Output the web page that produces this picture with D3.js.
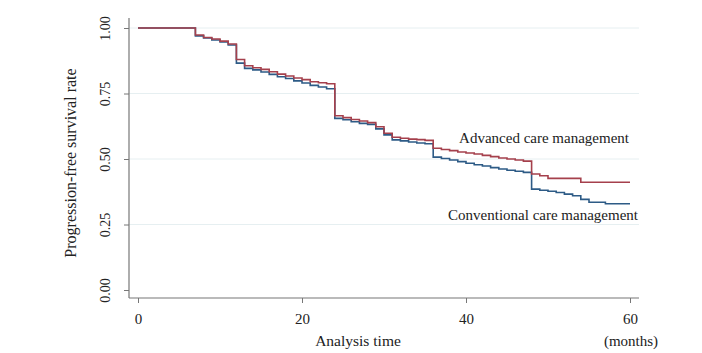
<!DOCTYPE html>
<html>
<head>
<meta charset="utf-8">
<script src="https://cdn.jsdelivr.net/npm/d3@7"></script>
<style>
  body { margin: 0; background: #fff; }
  text { font-family: "Liberation Serif", "Times New Roman", serif; fill: #222; }
</style>
</head>
<body>
<div id="drawing"></div>
<script>
// survival curve, advanced care (months, rate)
var advTime = [0, 7, 8, 9, 10, 11, 12, 13, 14, 15, 16, 17, 18, 19, 20, 21, 22, 23,
  24, 25, 26, 27, 28, 29, 30, 31, 32, 33, 34, 35, 36, 37, 38, 39, 40, 41, 42, 43,
  44, 45, 46, 47, 48, 49, 50, 54];
var advRate = [1.00, 0.973, 0.964, 0.958, 0.950, 0.939, 0.880, 0.856, 0.848, 0.842,
  0.833, 0.824, 0.817, 0.809, 0.803, 0.795, 0.791, 0.787,
  0.665, 0.658, 0.651, 0.645, 0.639, 0.623, 0.598, 0.583, 0.579, 0.576, 0.574, 0.571,
  0.541, 0.536, 0.532, 0.527, 0.523, 0.519, 0.514, 0.509, 0.504, 0.500, 0.496, 0.492,
  0.443, 0.436, 0.426, 0.411];

// survival curve, conventional care
var convTime = [0, 7, 8, 9, 10, 11, 12, 13, 14, 15, 16, 17, 18, 19, 20, 21, 22, 23,
  24, 25, 26, 27, 28, 29, 30, 31, 32, 33, 34, 35, 36, 37, 38, 39, 40, 41, 42, 43,
  44, 45, 46, 47, 48, 49, 50, 51, 52, 53, 54, 55, 57];
var convRate = [1.00, 0.970, 0.962, 0.954, 0.947, 0.935, 0.866, 0.846, 0.840, 0.832,
  0.823, 0.814, 0.807, 0.798, 0.790, 0.781, 0.775, 0.768,
  0.655, 0.650, 0.642, 0.636, 0.632, 0.615, 0.592, 0.573, 0.569, 0.565, 0.561, 0.558,
  0.507, 0.502, 0.496, 0.490, 0.484, 0.478, 0.473, 0.467, 0.462, 0.457, 0.453, 0.449,
  0.385, 0.381, 0.377, 0.372, 0.366, 0.360, 0.346, 0.335, 0.329];

var endTime = 60;
var xTicks = [0, 20, 40, 60];
var yTicks = [0, 0.25, 0.5, 0.75, 1];

var width = 702;
var height = 353;
var margin = {top: 28, right: 72, bottom: 63, left: 138};
var axisX = 129, axisY = 298;

var svg = d3.select("#drawing").append("svg")
  .attr("width", width)
  .attr("height", height);

var xScale = d3.scaleLinear().domain([0, 60]).range([margin.left, width - margin.right]);
var yScale = d3.scaleLinear().domain([0, 1]).range([height - margin.bottom, margin.top]);

// grid
svg.append("g").selectAll("line")
  .data(yTicks.filter(d => d > 0))
  .join("line")
    .attr("x1", axisX).attr("x2", 639)
    .attr("y1", d => yScale(d)).attr("y2", d => yScale(d))
    .style("stroke", "#e6eff1")
    .style("stroke-width", 1);

// axes
var yAxis = svg.append("g")
  .attr("transform", `translate(${axisX},0)`)
  .call(d3.axisLeft(yScale).tickValues(yTicks).tickFormat(d3.format(".2f")).tickSize(5));
yAxis.select(".domain").remove();
yAxis.selectAll(".tick line").style("stroke", "#777");
yAxis.selectAll(".tick text")
  .attr("x", null).attr("dy", null)
  .attr("transform", "translate(-19,0) rotate(-90)")
  .style("text-anchor", "middle")
  .style("font-size", "14px");

var xAxis = svg.append("g")
  .attr("transform", `translate(0,${axisY})`)
  .call(d3.axisBottom(xScale).tickValues(xTicks).tickFormat(d3.format("d")).tickSize(5));
xAxis.select(".domain").remove();
xAxis.selectAll(".tick line").style("stroke", "#777");
xAxis.selectAll(".tick text")
  .attr("y", 26).attr("dy", null)
  .style("font-size", "15px");

svg.append("line")
  .attr("x1", axisX).attr("x2", axisX).attr("y1", 18).attr("y2", axisY)
  .style("stroke", "#777").style("stroke-width", 1.2);
svg.append("line")
  .attr("x1", axisX).attr("x2", 639).attr("y1", axisY).attr("y2", axisY)
  .style("stroke", "#777").style("stroke-width", 1.2);

// curves
var line = d3.line()
  .x(d => xScale(d[0]))
  .y(d => yScale(d[1]))
  .curve(d3.curveStepAfter);

function steps(t, r) {
  var pts = t.map((d, i) => [d, r[i]]);
  pts.push([endTime, r[r.length - 1]]);
  return pts;
}

svg.append("path")
  .attr("d", line(steps(convTime, convRate)))
  .style("fill", "none").style("stroke", "#2d5b86").style("stroke-width", 1.6);
svg.append("path")
  .attr("d", line(steps(advTime, advRate)))
  .style("fill", "none").style("stroke", "#a5404c").style("stroke-width", 1.6);

// labels
svg.append("text")
  .attr("x", 629).attr("y", 143)
  .style("text-anchor", "end").style("font-size", "15px")
  .text("Advanced care management");
svg.append("text")
  .attr("x", 638).attr("y", 220)
  .style("text-anchor", "end").style("font-size", "15px")
  .text("Conventional care management");

svg.append("text")
  .attr("transform", "translate(76,163) rotate(-90)")
  .style("text-anchor", "middle").style("font-size", "16px")
  .text("Progression-free survival rate");

svg.append("text")
  .attr("x", 358).attr("y", 346)
  .style("text-anchor", "middle").style("font-size", "15.5px")
  .text("Analysis time");
svg.append("text")
  .attr("x", 631).attr("y", 346)
  .style("text-anchor", "middle").style("font-size", "15px")
  .text("(months)");
</script>
</body>
</html>
